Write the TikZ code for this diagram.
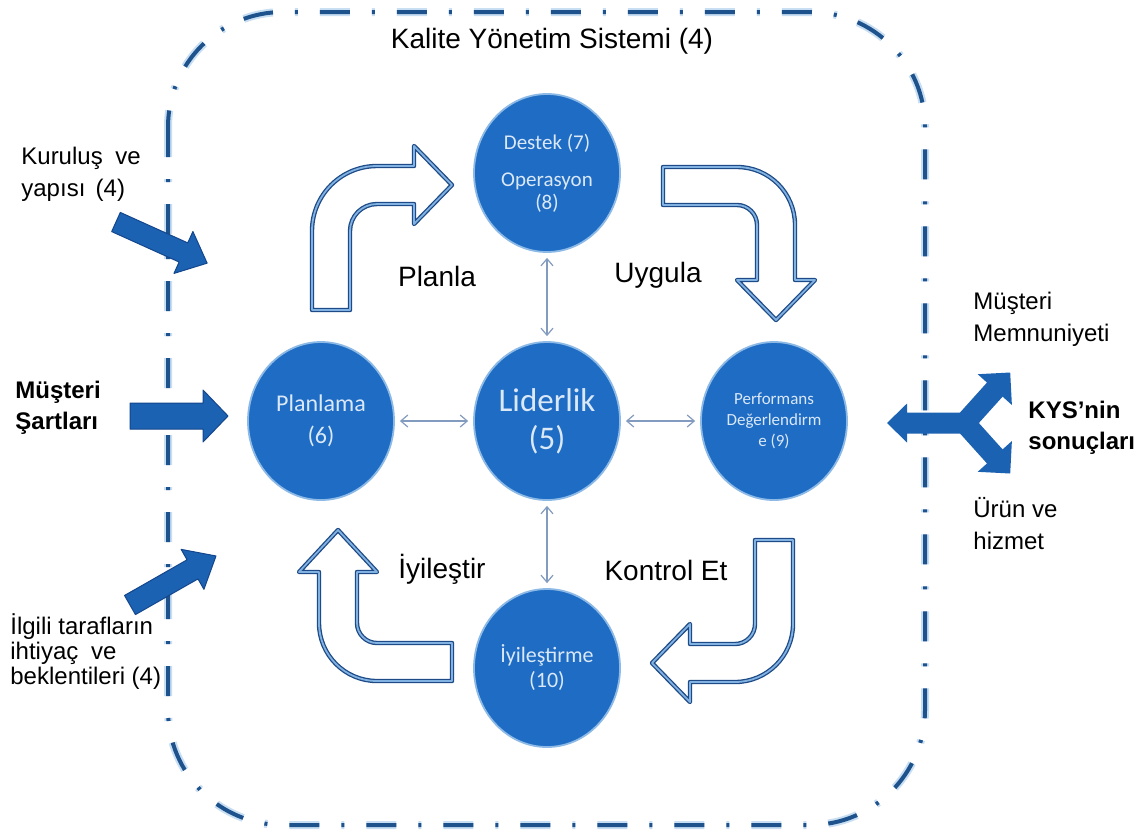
\documentclass[tikz,border=0pt]{standalone}
\usepackage{fontspec}
\setmainfont{Liberation Sans}
\newfontfamily\calibri{Carlito}
\usetikzlibrary{shapes.geometric,arrows.meta}
\definecolor{framedark}{RGB}{30,82,140}
\definecolor{frameglow}{RGB}{200,222,242}
\definecolor{circfill}{RGB}{30,108,195}
\definecolor{circedge}{RGB}{140,185,230}
\definecolor{circtext}{RGB}{218,232,248}
\definecolor{hdark}{RGB}{30,75,135}
\definecolor{hlight}{RGB}{130,178,225}
\definecolor{linkc}{RGB}{130,155,190}
\definecolor{sfill}{RGB}{28,98,178}
\definecolor{sedge}{RGB}{20,70,140}
\newcommand{\fatarrowshape}[8]{% #1 x, #2 y, #3 angle, #4 L, #5 a, #6 b, #7 h, #8 style
  \path[#8, shift={(#1,#2)}, rotate=#3] (0,-#5) -- ({#4-#7},-#5) -- ({#4-#7},-#6) -- (#4,0) -- ({#4-#7},#6) -- ({#4-#7},#5) -- (0,#5) -- cycle;}
\begin{document}
\begin{tikzpicture}[x=0.5pt,y=-0.5pt,
  circ/.style={ellipse, draw=circedge, line width=0.9pt, fill=circfill,
    minimum width=73pt, minimum height=79pt, inner sep=0pt, text=circtext, align=center},
  lbl/.style={font=\fontsize{14}{16}\selectfont, text=black, inner sep=0pt},
  side/.style={font=\fontsize{12}{16}\selectfont, align=left, anchor=west, inner sep=0pt, text=black},
  hollow/.style={draw=hdark, line width=0.65pt, double=hlight, double distance=0.9pt, fill=white, line join=round},
  link/.style={draw=linkc, line width=0.6pt,
    {Straight Barb[length=3.5pt,width=6pt]}-{Straight Barb[length=3.5pt,width=6pt]},
    shorten <=2.5pt, shorten >=2.5pt},
  solid/.style={fill=sfill, draw=sedge, line width=0.5pt, line join=round},
  solidY/.style={fill=sfill},
  frameline/.style={rounded corners=57.5pt, dash pattern=on 15pt off 11pt on 1.5pt off 11pt}
]
\useasboundingbox (0,0) rectangle (1143,831);
\fill[white] (0,0) rectangle (1143,831);

% frame
\draw[frameline, frameglow, line width=4pt] (168,12) rectangle (925,825);
\draw[frameline, framedark, line width=2pt] (168,12) rectangle (925,825);
\node[lbl] (title) at (552,41) {Kalite Yönetim Sistemi (4)};

% hollow process arrows
\path[hollow] (312,310) -- (312,231) .. controls (312,195.1) and (341.1,166) .. (377,166) -- (414,166) -- (414,146) -- (452,185) -- (414,224) -- (414,204) -- (377,204) .. controls (362.1,204) and (350,216.1) .. (350,231) -- (350,310) -- cycle;
\path[hollow] (663,167) -- (737,167) .. controls (769,167) and (795,193) .. (795,225) -- (795,280) -- (815,280) -- (776,320) -- (737,280) -- (757,280) -- (757,225) .. controls (757,214) and (748,205) .. (737,205) -- (663,205) -- cycle;
\path[hollow] (755,540) -- (793,540) -- (793,624) .. controls (793,656) and (767,682) .. (735,682) -- (690,682) -- (690,702) -- (652,663) -- (690,624) -- (690,644) -- (735,644) .. controls (746,644) and (755,635) .. (755,624) -- cycle;
\path[hollow] (452,643) -- (377,643) .. controls (366,643) and (357,634) .. (357,623) -- (357,572) -- (377,572) -- (338,530) -- (299,572) -- (319,572) -- (319,623) .. controls (319,655) and (345,681) .. (377,681) -- (452,681) -- cycle;

\node[lbl] (planla) at (437,276) {Planla};
\node[lbl] (uygula) at (658,275) {Uygula};
\node[lbl] (iyilestir) at (442,569) {İyileştir};
\node[lbl] (kontrol) at (666,570) {Kontrol Et};

% circles
\node[circ, font=\calibri\fontsize{10.5}{11.5}\selectfont] (destek) at (547,173) {Destek (7)\\[7pt]Operasyon\\(8)};
\node[circ, font=\calibri\fontsize{12}{16}\selectfont] (planlama) at (321,421) {Planlama\\(6)};
\node[circ, font=\calibri\fontsize{16.5}{19}\selectfont] (liderlik) at (547,421) {Liderlik\\(5)};
\node[circ, font=\calibri\fontsize{8.5}{10.5}\selectfont] (perf) at (774,421) {Performans\\Değerlendirm\\e (9)};
\node[circ, font=\calibri\fontsize{11}{12.5}\selectfont] (iyilestirme) at (547,668) {İyileştirme\\(10)};

\draw[link] (destek.south) -- (liderlik.north);
\draw[link] (planlama.east) -- (liderlik.west);
\draw[link] (liderlik.east) -- (perf.west);
\draw[link] (liderlik.south) -- (iyilestirme.north);

% input arrows (left)
\fatarrowshape{116}{222}{-24.3}{100}{10.5}{23}{26}{solid}
\fatarrowshape{130}{416}{0}{98}{13}{26}{25}{solid}
\fatarrowshape{130}{605}{29.7}{99}{11}{23}{27}{solid}

\node[side] (kurulus) at (21,174) {Kuruluş\hspace{0.25em} ve\\yapısı\hspace{0.15em} (4)};
\node[side, font=\bfseries\fontsize{12}{15.5}\selectfont] (musteri) at (15,408) {Müşteri\\Şartları};
\node[side, font=\fontsize{12}{12.5}\selectfont] (ilgili) at (10,652) {İlgili tarafların\\ihtiyaç\hspace{0.25em} ve\\beklentileri (4)};

% output Y arrow (right)
\fatarrowshape{976}{423}{180}{89}{10.5}{19.5}{20}{solidY}
\fatarrowshape{962}{426}{48}{72}{10.5}{23}{23}{solidY}
\fatarrowshape{962}{420}{-48}{72}{10.5}{23}{23}{solidY}

\node[side] (memnun) at (973,319) {Müşteri\\Memnuniyeti};
\node[side, font=\bfseries\fontsize{12}{15.5}\selectfont] (kys) at (1028,428) {KYS’nin\\sonuçları};
\node[side] (urun) at (973,524) {Ürün ve\\hizmet};
\end{tikzpicture}
\end{document}
